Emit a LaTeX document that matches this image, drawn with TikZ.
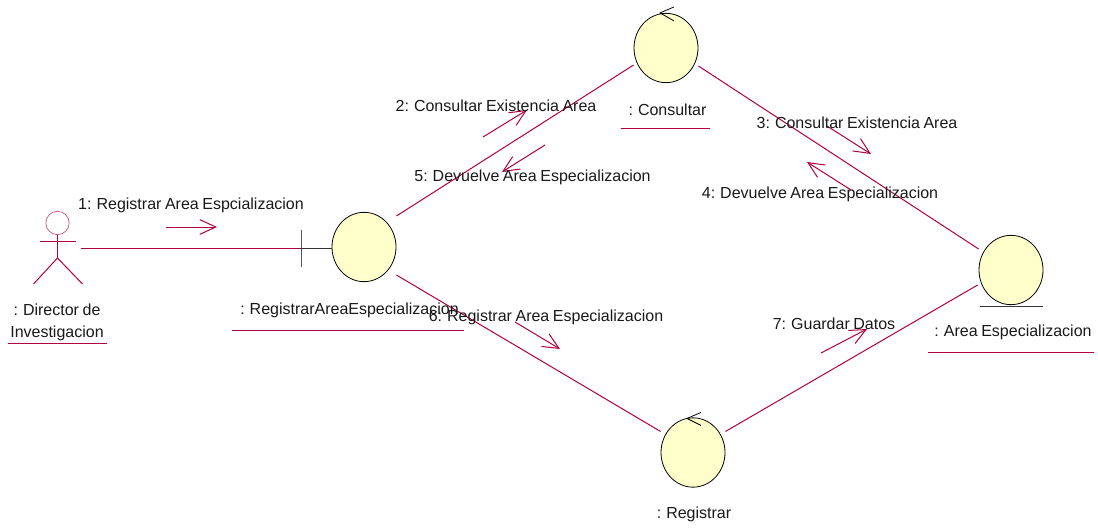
\documentclass[tikz,border=0pt]{standalone}
\usepackage{fontspec}
\setmainfont[WordSpace=0.8]{Liberation Sans}
\usetikzlibrary{calc,arrows.meta,shapes.geometric}
\definecolor{umlline}{RGB}{176,0,64}
\definecolor{umlfill}{RGB}{255,255,203}
\tikzset{
    assoc/.style={draw=umlline,line width=0.75pt},
    msg/.style={assoc,-{Straight Barb[length=12pt,width=11pt,line width=0.75pt]}},
    obj/.style={ellipse,draw=black,fill=umlfill,line width=0.6pt,inner sep=0pt,
        minimum width=48pt,minimum height=52pt},
    txt/.style={inner sep=0pt,yshift=-1pt,text=black!90,font=\fontsize{12pt}{16.5pt}\selectfont,align=center},
}
\begin{document}
\begin{tikzpicture}[x=0.75pt,y=-0.75pt]
    \useasboundingbox (0,0) rectangle (1098,531);
    \node[circle,draw=umlline!70,line width=0.5pt,inner sep=0pt,minimum size=17.5pt] (directorHead) at (57.5,223) {};
    \draw[assoc] (directorHead.south) -- ++(0,23)
        coordinate (directorHip);
    \draw[assoc] ($(directorHead)+(-18,18)$) -- ($(directorHead)+(18,18)$);
    \draw[assoc] ($(directorHip)+(-24,26)$) -- (directorHip) -- ($(directorHip)+(25,26)$);
    \coordinate (directorHand) at (81,248);

    \node[obj] (registrarArea) at (364,247) {};
    \node[obj] (consultar) at (666,48) {};
    \node[obj] (registrar) at (693,452.5) {};
    \node[obj] (areaEsp) at (1011,270) {};

    \coordinate (boundaryTick) at (301,248);
    \draw[draw=black!65,line width=0.75pt] ($(boundaryTick)+(0,-18)$) -- ($(boundaryTick)+(0,19)$);
    \draw[draw=black!80,line width=0.75pt] (boundaryTick) -- (boundaryTick -| registrarArea.west);
    \draw[black,line width=0.6pt] ($(consultar.north)+(8,-6)$) -- ($(consultar.north)+(-6,0)$) -- ($(consultar.north)+(8,8)$);
    \draw[black,line width=0.6pt] ($(registrar.north)+(8,-5)$) -- ($(registrar.north)+(-6,1)$) -- ($(registrar.north)+(8,8)$);
    \draw[draw=black!80,line width=0.75pt] ($(areaEsp.south)+(-31,1)$) -- ($(areaEsp.south)+(32,1)$);

    \draw[assoc] (directorHand) -- (boundaryTick);
    \draw[assoc] ($(registrarArea.east)+(0,-31)$) -- ($(consultar.west)+(0,17)$);
    \draw[assoc] ($(consultar.east)+(0,18)$) -- ($(areaEsp.west)+(0,-21)$);
    \draw[assoc] ($(registrarArea.east)+(0,28)$) -- ($(registrar.west)+(0,-21)$);
    \draw[assoc] ($(registrar.east)+(0,-21)$) -- ($(areaEsp.west)+(-1,15)$);

    \foreach \name/\xa/\ya/\xb/\yb in {
        msgOne/166/227/217/227,
        msgTwo/483/137/527/110,
        msgThree/827/126/871/154,
        msgFour/851/190/807/162,
        msgFive/545/145/502/172,
        msgSix/515/322/560/349,
        msgSeven/821/353/867/329} {
        \coordinate (\name Tail) at (\xa,\ya);
        \coordinate (\name Tip) at (\xb,\yb);
        \draw[msg] (\name Tail) -- (\name Tip);
    }

    \node[txt] (msgOneLbl) at (191,204) {1: Registrar Area Espcializacion};
    \node[txt] (msgTwoLbl) at (496,104) {2: Consultar Existencia Area};
    \node[txt] (msgThreeLbl) at (857,121) {3: Consultar Existencia Area};
    \node[txt] (msgFourLbl) at (820,193) {4: Devuelve Area Especializacion};
    \node[txt] (msgFiveLbl) at (532.5,176) {5: Devuelve Area Especializacion};
    \node[txt] (msgSixLbl) at (546,316) {6: Registrar Area Especializacion};
    \node[txt] (msgSevenLbl) at (834,322) {7: Guardar Datos};

    \node[txt] (directorLbl) at (57,321) {: Director de\\Investigacion};
    \node[txt] (registrarAreaLbl) at (349.5,309) {: RegistrarAreaEspecializacion};
    \node[txt] (consultarLbl) at (667.5,108) {: Consultar};
    \node[txt] (registrarLbl) at (694,513) {: Registrar};
    \node[txt] (areaEspLbl) at (1013,331) {: Area Especializacion};

    \foreach \xa/\xb/\y in {8/107/343, 232/464/330, 621/710/129, 928/1094/352}
        \draw[assoc] (\xa,\y) -- (\xb,\y);
\end{tikzpicture}
\end{document}
